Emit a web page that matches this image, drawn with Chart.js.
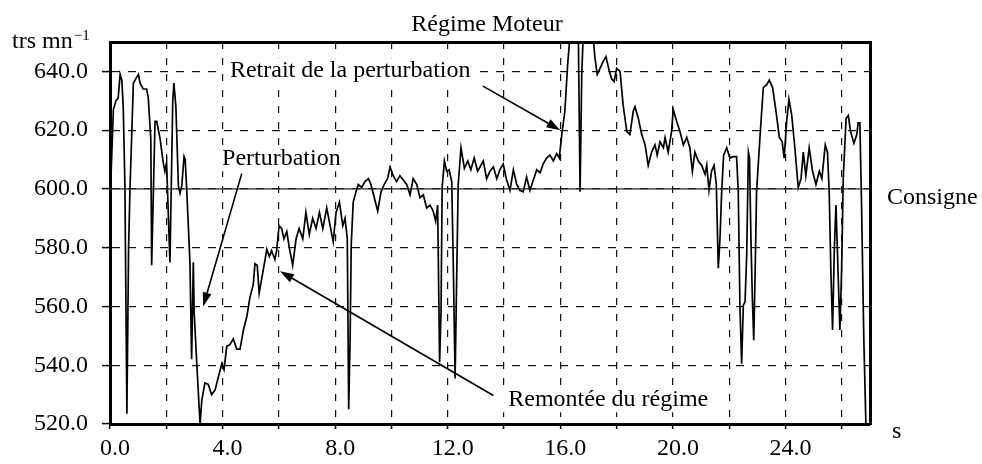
<!DOCTYPE html>
<html>
<head>
<meta charset="utf-8">
<script src="https://cdn.jsdelivr.net/npm/chart.js@4.4.1/dist/chart.umd.min.js"></script>
<style>
  html, body { margin: 0; padding: 0; background: #fff; }
  #wrap { width: 982px; height: 464px; }
</style>
</head>
<body>
<div id="wrap"><canvas id="c" width="982" height="464"></canvas></div>
<script>
// Engine speed recording (rpm) against time (s)
const timeS = [
  0.02,0.12,0.21,0.29,0.36,0.42,0.47,0.53,0.60,0.66,
  0.71,0.83,0.89,1.01,1.07,1.18,1.30,1.36,1.45,1.48,
  1.60,1.66,1.78,1.89,1.95,2.01,2.13,2.23,2.27,2.34,
  2.43,2.49,2.55,2.63,2.67,2.72,2.84,2.90,2.96,2.99,
  3.08,3.20,3.26,3.37,3.49,3.61,3.73,3.85,3.97,4.05,
  4.15,4.26,4.38,4.50,4.62,4.74,4.86,4.97,5.09,5.15,
  5.23,5.30,5.39,5.51,5.57,5.66,5.74,5.86,5.92,5.98,
  6.01,6.10,6.18,6.28,6.37,6.49,6.61,6.72,6.85,6.96,
  7.08,7.20,7.32,7.44,7.56,7.70,7.82,7.93,8.03,8.15,
  8.27,8.35,8.43,8.48,8.53,8.57,8.64,8.74,8.82,8.94,
  9.06,9.18,9.27,9.39,9.51,9.63,9.74,9.86,9.95,10.06,
  10.18,10.30,10.42,10.54,10.66,10.77,10.90,11.01,11.13,11.25,
  11.37,11.48,11.57,11.64,11.71,11.76,11.80,11.88,11.96,12.05,
  12.14,12.20,12.26,12.32,12.37,12.47,12.59,12.71,12.82,12.94,
  13.06,13.26,13.38,13.50,13.62,13.74,13.85,13.97,14.09,14.21,
  14.33,14.45,14.56,14.68,14.80,14.92,15.04,15.16,15.28,15.39,
  15.51,15.63,15.75,15.87,15.96,16.05,16.16,16.26,16.34,16.45,
  16.56,16.64,16.70,16.76,16.81,16.91,17.02,17.12,17.17,17.23,
  17.31,17.41,17.50,17.62,17.73,17.82,17.91,18.00,18.12,18.23,
  18.36,18.47,18.59,18.65,18.77,18.89,19.01,19.12,19.24,19.36,
  19.44,19.54,19.66,19.72,19.83,19.95,20.01,20.13,20.25,20.37,
  20.49,20.60,20.69,20.78,20.90,21.02,21.14,21.20,21.28,21.37,
  21.46,21.54,21.61,21.67,21.73,21.80,21.91,22.02,22.14,22.26,
  22.32,22.38,22.44,22.50,22.56,22.62,22.68,22.72,22.77,22.82,
  22.87,22.92,22.97,23.09,23.21,23.33,23.42,23.54,23.66,23.78,
  23.88,23.95,24.04,24.12,24.22,24.33,24.45,24.55,24.63,24.72,
  24.84,24.96,25.08,25.20,25.29,25.41,25.49,25.55,25.61,25.67,
  25.73,25.79,25.85,25.93,25.99,26.05,26.15,26.23,26.31,26.43,
  26.53,26.58,26.64,26.70,26.78,26.88
];

const regime = [
  600,627,630,631,639,637,628,601,523.5,580,
  600,636,637,639,636,634,634,631,617,574,
  623,623,617,609,606,609,575,630,636,628,
  601,598.5,601,611,610,601,575,542,575,558,
  541,520,528,534,533.5,530,531.5,536,540.5,538.5,
  546.5,547,549,545.5,545.5,552,556.5,563,567.5,574.5,
  574,564.5,569.5,576,579.5,577,579,576,579,585,
  587.5,586.5,583,585.5,580,574,583,586.5,583,592,
  584.5,590,586.5,592,586.5,593.5,587.5,582,592,595.5,
  587.5,590,583,525,549,581,595.5,599,601.5,600.5,
  602.5,603.5,601.5,597,592.5,599,601.5,603.5,607.5,604.5,
  602.5,604.5,603,601.5,598,603.5,601.5,597,598,593.5,
  594.5,592.5,589,594.5,541,558,600.5,609.5,606,606.5,
  602.5,572,535.5,572,601.5,614,607,609.5,606.5,610.5,
  606,609.5,603.5,606,607.5,603.5,606.5,608.5,603,599.5,
  606.5,601.5,599.5,599,604,599.5,603,606.5,605.5,608.5,
  610.5,611.5,609.5,612,610.5,618.5,626.5,642.5,652,662,
  660,651,599,639,652,664,668,660,651,644.5,
  639,641,643,645,640.5,637.5,636.5,641,640,628.5,
  619.5,618.5,626.5,628,624,618.5,615,608,612.5,615,
  611.5,616,614,617.5,612.5,619.5,627,623,619.5,615,
  617.5,614,606,612.5,609.5,608,605,608,599.5,606,
  608,601.5,573,583,599,611.5,614,610.5,611,611,
  599,559.5,540.5,560.5,561.5,577.5,612.5,610.5,583,563,
  548.5,572,599,617.5,634.5,635.5,637,634.5,626.5,617.5,
  616,610.5,623,630.5,625,614,600.5,603.5,612.5,604.5,
  614,606,601.5,606,603.5,615,612.5,599,572,552,
  578.5,594.5,576.5,552,572,603.5,624,625,619.5,615.5,
  618.5,622.5,622.5,594.5,549,510
];

// Set point (Consigne) and axis extents
const consigne = 600;
const timeRange = [0, 27];
const speedRange = [520, 650];
const yTickValues = [520, 540, 560, 580, 600, 620, 640];
const xLabelValues = [0, 4, 8, 12, 16, 20, 24];

// Callouts: text anchor, arrow tail and arrow head, in data units (s, rpm)
const notes = [
  { text: 'Retrait de la perturbation', at: [4.26, 638], tail: [13.25, 635], head: [16.0, 620] },
  { text: 'Perturbation', at: [3.98, 608], tail: [4.68, 605.2], head: [3.31, 560] },
  { text: 'Remontée du régime', at: [14.15, 526], tail: [13.62, 529.7], head: [6.04, 572] }
];

const serif = "'Liberation Serif', 'Times New Roman', serif";
const ink = '#000';

function arrow(ctx, x1, y1, x2, y2) {
  const ang = Math.atan2(y2 - y1, x2 - x1);
  const L = 14, W = 4.5;
  const bx = x2 - L * Math.cos(ang), by = y2 - L * Math.sin(ang);
  ctx.beginPath();
  ctx.moveTo(x1, y1);
  ctx.lineTo(bx, by);
  ctx.lineWidth = 1.6;
  ctx.stroke();
  ctx.beginPath();
  ctx.moveTo(x2, y2);
  ctx.lineTo(bx + W * Math.sin(ang), by - W * Math.cos(ang));
  ctx.lineTo(bx - W * Math.sin(ang), by + W * Math.cos(ang));
  ctx.closePath();
  ctx.fill();
}

const decor = {
  id: 'decor',
  afterDraw(chart) {
    const { ctx, chartArea: a, scales: { x, y } } = chart;
    ctx.save();
    ctx.fillStyle = ink;
    ctx.strokeStyle = ink;
    ctx.textBaseline = 'alphabetic';
    ctx.font = `24px ${serif}`;

    // title
    ctx.textAlign = 'center';
    ctx.fillText('Régime Moteur', (a.left + a.right) / 2 - 3, 31);

    // unit of the vertical axis
    ctx.textAlign = 'left';
    ctx.fillText('trs mn', 12, 48);
    const w = ctx.measureText('trs mn').width;
    ctx.font = `15px ${serif}`;
    ctx.fillText('\u22121', 12 + w + 1, 40);

    // set point label and time unit
    ctx.font = `24px ${serif}`;
    ctx.fillText('Consigne', a.right + 17, y.getPixelForValue(consigne) + 15);
    ctx.fillText('s', a.right + 22, a.bottom + 14);

    // callouts: text on a white plate that interrupts the grid, then the arrow
    notes.forEach(n => {
      const tx = x.getPixelForValue(n.at[0]);
      const ty = y.getPixelForValue(n.at[1]);
      const tw = ctx.measureText(n.text).width;
      ctx.fillStyle = '#fff';
      ctx.fillRect(tx - 6, ty - 19, tw + 10, 25);
      ctx.fillStyle = ink;
      ctx.fillText(n.text, tx, ty);
      arrow(ctx,
        x.getPixelForValue(n.tail[0]), y.getPixelForValue(n.tail[1]),
        x.getPixelForValue(n.head[0]), y.getPixelForValue(n.head[1]));
    });
    ctx.restore();
  }
};

const tickFont = { family: serif, size: 24 };

new Chart(document.getElementById('c'), {
  type: 'line',
  data: {
    datasets: [
      {
        label: 'Consigne',
        data: [{ x: timeRange[0], y: consigne }, { x: timeRange[1], y: consigne }],
        borderColor: '#222',
        borderWidth: 1.3,
        pointRadius: 0
      },
      {
        label: 'Régime Moteur',
        data: timeS.map((t, i) => ({ x: t, y: regime[i] })),
        borderColor: ink,
        borderWidth: 1.7,
        pointRadius: 0,
        tension: 0
      }
    ]
  },
  plugins: [decor],
  options: {
    responsive: false,
    animation: false,
    devicePixelRatio: 1,
    layout: { padding: { top: 42, right: 112, left: 0, bottom: 0 } },
    plugins: { legend: { display: false }, title: { display: false }, tooltip: { enabled: false } },
    scales: {
      x: {
        type: 'linear',
        position: 'bottom',
        min: timeRange[0],
        max: timeRange[1],
        afterFit(s) { s.height = 40; },
        ticks: {
          stepSize: 2,
          includeBounds: false,
          autoSkip: false,
          maxRotation: 0,
          padding: 5,
          labelOffset: 5,
          color: ink,
          font: tickFont,
          callback: v => (xLabelValues.includes(v) ? v.toFixed(1) : '')
        },
        grid: { color: '#111', lineWidth: 1.2, tickLength: 5, tickColor: ink, tickWidth: 1.5 },
        border: { display: true, color: ink, width: 3, dash: [7, 9] }
      },
      y: {
        type: 'linear',
        position: 'left',
        min: speedRange[0],
        max: speedRange[1],
        afterFit(s) { s.width = 110; },
        afterBuildTicks(s) { s.ticks = yTickValues.map(v => ({ value: v })); },
        ticks: { padding: 14, color: ink, font: tickFont, callback: v => v.toFixed(1) },
        grid: { color: '#111', lineWidth: 1.2, tickLength: 8, tickColor: ink, tickWidth: 1.5 },
        border: { display: true, color: ink, width: 3, dash: [8, 8] }
      },
      xTop: {
        type: 'linear',
        position: 'top',
        afterFit(s) { s.height = 0; },
        ticks: { display: false },
        grid: { display: false, drawTicks: false },
        border: { display: true, color: ink, width: 3 }
      },
      yRight: {
        type: 'linear',
        position: 'right',
        afterFit(s) { s.width = 0; },
        ticks: { display: false },
        grid: { display: false, drawTicks: false },
        border: { display: true, color: ink, width: 3 }
      }
    }
  }
});
</script>
</body>
</html>
